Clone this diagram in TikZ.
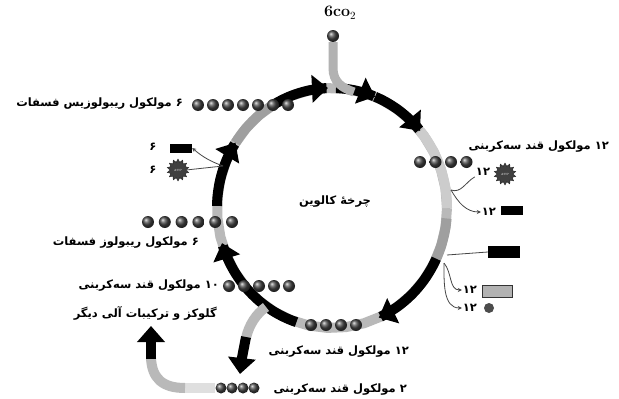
\documentclass[tikz,border=0pt]{standalone}
\usepackage{fontspec}
\TeXXeTstate=1
\newfontfamily\fa[Script=Arabic]{DejaVu Sans}
\usetikzlibrary{arrows.meta, calc, shapes.geometric}
% one piece of the cycle ring, by angle (y grows downwards)
\newcommand{\ringpart}[3]{\draw[#1] plot[domain=#2:#3, samples=40] ({332+115*cos(\x)},{208+120*sin(\x)});}

\begin{document}
\begin{tikzpicture}[
  x=1pt, y=-1pt,
  band/.style={line width=10pt, gray!55},
  flow/.style={line width=10pt, black, -{Triangle[width=27pt,length=16pt]}},
  dot/.style={circle, inner sep=0pt, minimum size=12pt, shading=ball, ball color=gray!55!black},
  sdot/.style={dot, minimum size=11pt},
  lbl/.style={font=\fa\bfseries\fontsize{11.5}{13}\selectfont, inner sep=1pt},
  blk/.style={rectangle, fill=black, inner sep=0pt, minimum width=22pt, minimum height=9pt},
  atp/.style={star, star points=14, star point ratio=1.4, fill=gray!50!black, draw=gray!30!black,
    inner sep=0pt, minimum size=22pt, font=\fontsize{3}{3}\selectfont, text=white},
  lnk/.style={draw=gray!55!black, line width=0.8pt},
  lnkarr/.style={lnk, -{Stealth[length=4pt,width=4pt]}}
]
  \useasboundingbox[fill=white] (0,0) rectangle (619,399);

  % ring
  \ringpart{band}{0}{360}
  \ringpart{line width=10pt, gray!40}{320}{360}
  \ringpart{line width=10pt, gray!75}{5}{25}
  \ringpart{line width=10pt, gray!75}{213}{238}
  \ringpart{flow}{272}{292}
  \ringpart{flow}{292}{320}
  \ringpart{flow}{25}{66}
  \ringpart{flow}{108}{163}
  \ringpart{flow}{181}{213}
  \ringpart{flow}{238}{268}

  % co2 in
  \node[dot] (co) at (333,36) {};
  \node[font=\bfseries\fontsize{16}{17}\selectfont] (colbl) at (340,13) {6co$_2$};
  \draw[line width=9pt, gray!60] (co.south) -- (333,68) .. controls (333,82) and (342,88) .. (354,92);

  % branch out of the cycle
  \coordinate (br) at (266,307);
  \draw[line width=10pt, gray!55] (br) .. controls (256,314) and (249,325) .. (246,338);
  \draw[flow] (246,337) .. controls (243,348) .. (240,374);

  % dots
  \foreach \i in {0,...,6} \node[dot] (rb\i) at ({198+15*\i},105) {};
  \foreach \i in {0,...,3} \node[dot] (tr\i) at ({420+15.5*\i},162) {};
  \foreach \i in {0,...,5} \node[dot] (rp\i) at ({148+16.8*\i},222) {};
  \foreach \i in {0,...,4} \node[dot] (tt\i) at ({229+15*\i},286) {};
  \foreach \i in {0,...,3} \node[dot] (tb\i) at ({311+15*\i},325) {};
  \foreach \i in {0,...,3} \node[sdot] (to\i) at ({221+11*\i},388) {};

  % product leaves
  \draw[line width=10pt, gray!25] (to0.west) -- (185,388);
  \draw[line width=10pt, gray!55] (185,388) .. controls (162,388) and (152,378) .. (151,358);
  \draw[flow] (151,359) -- (151,326);

  % left side: atp and nadph
  \node[blk] (nl) at (181,148) {};
  \node[atp] (al) at (178,170) {ATP};
  \node[lbl] (nl6) at (153,147) {۶};
  \node[lbl] (al6) at (153,170) {۶};
  \coordinate (pl) at (223,166);
  \draw[lnkarr] (pl) to[bend left=10] (nl.east);
  \draw[lnk] (pl) -- (al.east);

  % right side
  \node[atp] (ar) at (505,174) {ATP};
  \node[lbl] (ar12) at (483,172) {۱۲};
  \node[blk] (nr) at (512,210) {};
  \node[lbl] (nr12) at (489,212) {۱۲};
  \coordinate (pr) at (451,190);
  \draw[lnk] (pr) to[out=-20,in=-150] (ar12.south west);
  \draw[lnkarr] (pr) to[out=-60,in=180] (nr12.west);

  \node[blk, minimum width=32pt, minimum height=12pt] (nb) at (504,252) {};
  \coordinate (pb) at (447,255);
  \draw[lnk] (pb) -- (nb.west);
  \node[lbl] (np12) at (470,290) {۱۲};
  \node[rectangle, fill=gray!60, draw=gray!40!black, inner sep=0pt, minimum width=30pt, minimum height=12pt] (np) at (497,291) {};
  \node[lbl] (pi12) at (470,308) {۱۲};
  \node[circle, fill=gray!60!black, inner sep=0pt, minimum size=10pt] (pi) at (489,308) {};
  \coordinate (pc) at (444,263);
  \draw[lnkarr] (pc) to[out=-50,in=180] (np12.west);
  \draw[lnkarr] (pc) to[out=-90,in=180] (pi12.west);

  % labels
  \node[lbl, anchor=east] (l1) at (184,104) {\beginR ۶ مولکول ریبولوزیس فسفات\endR};
  \node[lbl, anchor=east] (l2) at (610,147) {\beginR ۱۲ مولکول قند سه‌کربنی\endR};
  \node[lbl] (l3) at (335,202) {\beginR چرخهٔ کالوین\endR};
  \node[lbl, anchor=east] (l4) at (200,243) {\beginR ۶ مولکول ریبولوز فسفات\endR};
  \node[lbl, anchor=east] (l5) at (220,286) {\beginR ۱۰ مولکول قند سه‌کربنی\endR};
  \node[lbl, anchor=east] (l6) at (218,313) {\beginR گلوکز و ترکیبات آلی دیگر\endR};
  \node[lbl, anchor=east] (l7) at (410,352) {\beginR ۱۲ مولکول قند سه‌کربنی\endR};
  \node[lbl, anchor=east] (l8) at (408,390) {\beginR ۲ مولکول قند سه‌کربنی\endR};
\end{tikzpicture}
\end{document}
